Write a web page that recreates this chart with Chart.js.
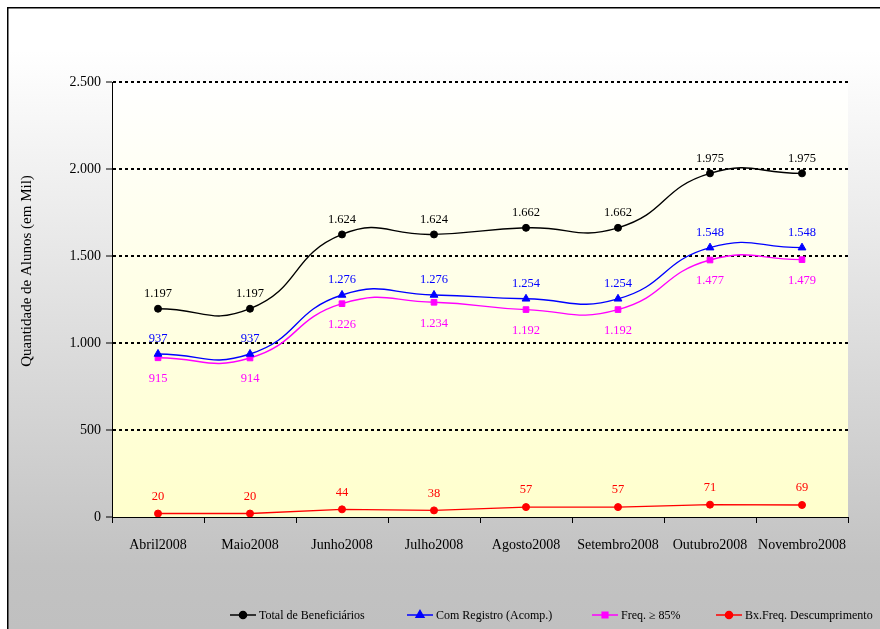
<!DOCTYPE html>
<html>
<head>
<meta charset="utf-8">
<script src="https://cdn.jsdelivr.net/npm/chart.js@4.4.1/dist/chart.umd.min.js"></script>
<style>
  html, body { margin: 0; padding: 0; background: #ffffff; }
  #wrap { width: 880px; height: 629px; }
</style>
</head>
<body>
<div id="wrap"><canvas id="c" width="880" height="629"></canvas></div>
<script>
// Months on the category axis
const months = ['Abril2008', 'Maio2008', 'Junho2008', 'Julho2008', 'Agosto2008', 'Setembro2008', 'Outubro2008', 'Novembro2008'];

// Students, in thousands
const totalBeneficiarios = [1197, 1197, 1624, 1624, 1662, 1662, 1975, 1975];
const comRegistro = [937, 937, 1276, 1276, 1254, 1254, 1548, 1548];
const freq85 = [915, 914, 1226, 1234, 1192, 1192, 1477, 1479];
const bxFreq = [20, 20, 44, 38, 57, 57, 71, 69];

// Value axis ticks
const yTicks = [0, 500, 1000, 1500, 2000, 2500];

const SERIF = '"Liberation Serif", "Times New Roman", serif';

function fmt(v) {
  return String(v).replace(/\B(?=(\d{3})+(?!\d))/g, '.');
}

const seriesStyle = [
  { label: 'Total de Beneficiários', data: totalBeneficiarios, color: '#000000', point: 'circle', r: 3.5, tension: 0.5, labelDy: -15 },
  { label: 'Com Registro (Acomp.)', data: comRegistro, color: '#0000ff', point: 'triangle', r: 4.5, tension: 0.5, labelDy: -15 },
  { label: 'Freq. \u2265 85%', data: freq85, color: '#ff00ff', point: 'rect', r: 4, tension: 0.5, labelDy: 21 },
  { label: 'Bx.Freq. Descumprimento', data: bxFreq, color: '#ff0000', point: 'circle', r: 3.5, tension: 0, labelDy: -17 }
];

// Page / frame background and plot-area gradient
const backdrop = {
  id: 'backdrop',
  beforeDraw(chart) {
    const { ctx, chartArea: a, width, height } = chart;
    ctx.save();
    const g = ctx.createLinearGradient(0, 0, 0, height);
    g.addColorStop(0, '#ffffff');
    g.addColorStop(0.08, '#ffffff');
    g.addColorStop(0.9, '#c2c2c2');
    g.addColorStop(1, '#c0c0c0');
    ctx.fillStyle = g;
    ctx.fillRect(0, 0, width, height);
    ctx.fillStyle = '#ffffff';
    ctx.fillRect(0, 0, width, 7);
    ctx.fillRect(0, 0, 7, height);
    const pg = ctx.createLinearGradient(0, a.top, 0, a.bottom);
    pg.addColorStop(0, '#ffffff');
    pg.addColorStop(1, '#ffffcc');
    ctx.fillStyle = pg;
    ctx.fillRect(a.left, a.top, a.right - a.left, a.bottom - a.top);
    ctx.strokeStyle = '#000000';
    ctx.lineWidth = 1.5;
    ctx.beginPath();
    ctx.moveTo(7.75, height + 2);
    ctx.lineTo(7.75, 7.75);
    ctx.lineTo(width + 2, 7.75);
    ctx.stroke();

    // value-axis title
    ctx.translate(27, 271);
    ctx.rotate(-Math.PI / 2);
    ctx.font = '15px ' + SERIF;
    ctx.fillStyle = '#000000';
    ctx.textAlign = 'center';
    ctx.textBaseline = 'middle';
    ctx.fillText('Quantidade de Alunos (em Mil)', 0, 0);
    ctx.restore();
  }
};

// Value labels beside each point, and the legend row at the bottom
const annotate = {
  id: 'annotate',
  afterDatasetsDraw(chart) {
    const { ctx } = chart;
    ctx.save();
    ctx.font = '12.5px ' + SERIF;
    ctx.textAlign = 'center';
    ctx.textBaseline = 'middle';
    chart.data.datasets.forEach((ds, i) => {
      const meta = chart.getDatasetMeta(i);
      const st = seriesStyle[i];
      ctx.fillStyle = st.color;
      meta.data.forEach((pt, j) => {
        ctx.fillText(fmt(ds.data[j]), pt.x, pt.y + st.labelDy);
      });
    });
    ctx.restore();
  },
  afterDraw(chart) {
    const { ctx } = chart;
    const y = 615;
    const starts = [230, 407, 592, 716];
    ctx.save();
    ctx.font = '12px ' + SERIF;
    ctx.textBaseline = 'middle';
    ctx.textAlign = 'left';
    seriesStyle.forEach((st, i) => {
      const x0 = starts[i];
      ctx.strokeStyle = st.color;
      ctx.lineWidth = 1.5;
      ctx.beginPath();
      ctx.moveTo(x0, y);
      ctx.lineTo(x0 + 26, y);
      ctx.stroke();
      Chart.helpers.drawPoint(ctx, { pointStyle: st.point, radius: st.r, borderWidth: 1 }, x0 + 13, y);
      ctx.fillStyle = st.color;
      ctx.fill();
      ctx.fillStyle = '#000000';
      ctx.fillText(st.label, x0 + 29, y + 0.5);
    });
    ctx.restore();
  }
};

const chart = new Chart(document.getElementById('c'), {
  type: 'line',
  data: {
    labels: months,
    datasets: seriesStyle.map(st => ({
      label: st.label,
      data: st.data,
      borderColor: st.color,
      backgroundColor: st.color,
      borderWidth: 1.4,
      pointStyle: st.point,
      pointRadius: st.r,
      pointBorderWidth: 1,
      pointBackgroundColor: st.color,
      pointBorderColor: st.color,
      tension: st.tension,
      fill: false
    }))
  },
  options: {
    responsive: false,
    animation: false,
    devicePixelRatio: 1,
    layout: { padding: { left: 8, top: 82, right: 32, bottom: 0 } },
    plugins: {
      legend: { display: false },
      tooltip: { enabled: false }
    },
    scales: {
      x: {
        offset: true,
        grid: {
          offset: true,
          drawOnChartArea: false,
          drawTicks: true,
          tickLength: 6,
          tickColor: '#000000',
          tickWidth: 1
        },
        border: { display: true, color: '#000000', width: 1 },
        ticks: {
          color: '#000000',
          font: { family: SERIF, size: 14 },
          padding: 14,
          maxRotation: 0,
          autoSkip: false
        },
        afterFit(scale) { scale.height = 112; }
      },
      y: {
        min: 0,
        max: 2500,
        afterBuildTicks(scale) { scale.ticks = yTicks.map(v => ({ value: v })); },
        grid: {
          color: ctx => (ctx.tick && ctx.tick.value === 0) ? 'rgba(0,0,0,0)' : '#000000',
          lineWidth: 2,
          tickBorderDash: [],
          tickColor: '#000000',
          tickWidth: 1,
          tickLength: 6
        },
        border: { display: true, color: '#000000', width: 1, dash: [3, 3] },
        ticks: {
          color: '#000000',
          font: { family: SERIF, size: 14 },
          padding: 5,
          callback: v => fmt(v)
        },
        title: { display: false },
        afterFit(scale) { scale.width = 104; }
      }
    }
  },
  plugins: [backdrop, annotate]
});
</script>
</body>
</html>
